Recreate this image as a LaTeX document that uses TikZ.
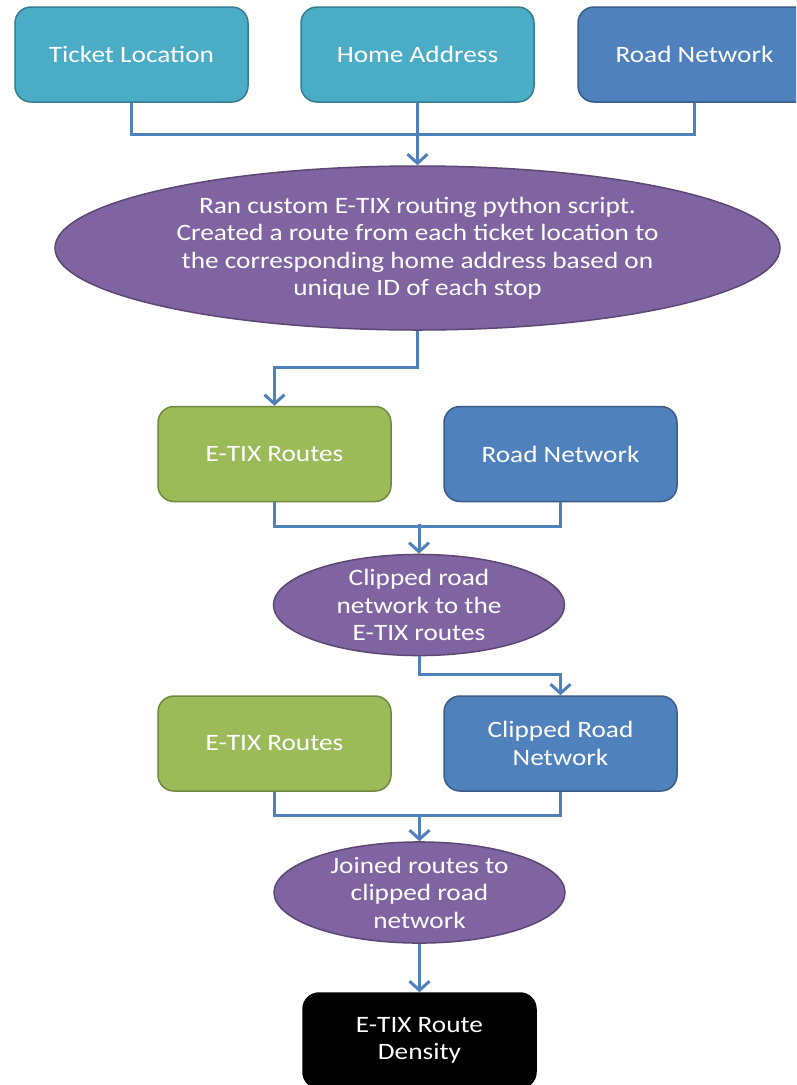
\documentclass[tikz,border=0pt]{standalone}
\usepackage{fontspec}
\setmainfont[FakeStretch=1.16]{Carlito}
\usetikzlibrary{arrows.meta,shapes.geometric,calc}
\definecolor{tealf}{HTML}{4BACC6}
\definecolor{teald}{HTML}{357D91}
\definecolor{bluef}{HTML}{4F81BD}
\definecolor{blued}{HTML}{385D8A}
\definecolor{greenf}{HTML}{9BBB59}
\definecolor{greend}{HTML}{71893F}
\definecolor{purpf}{HTML}{8064A2}
\definecolor{purpd}{HTML}{5C4776}
\definecolor{linec}{HTML}{4F81BD}
\tikzset{
  txt/.style={text=white, font=\fontsize{23.5}{27.5}\selectfont, align=center},
  box/.style={txt, rounded corners=16pt, minimum width=233pt, minimum height=95pt, inner sep=0pt, line width=1.5pt},
  tealbox/.style={box, fill=tealf, draw=teald},
  bluebox/.style={box, fill=bluef, draw=blued},
  greenbox/.style={box, fill=greenf, draw=greend},
  blackbox/.style={box, fill=black, draw=black},
  proc/.style={txt, ellipse, fill=purpf, draw=purpd, line width=1.5pt, inner sep=0pt},
  conn/.style={draw=linec, line width=3pt},
  arr/.style={conn, -{Straight Barb[length=9pt,width=20pt,line width=3pt]}}
}
\begin{document}
\begin{tikzpicture}[x=1pt,y=-1pt]
\clip (0,0) rectangle (796,1085);
\fill[white] (0,0) rectangle (796,1085);
% top row
\node[tealbox] (tl) at (131.5,54.5) {Ticket Location};
\node[tealbox] (ha) at (417.5,54.5) {Home Address};
\node[bluebox] (rn1) at (694.5,54.5) {Road Network};
% big process
\node[proc, minimum width=725pt, minimum height=164pt] (big) at (417.5,248) {Ran custom E-TIX routing python script.\\Created a route from each ticket location to\\the corresponding home address based on\\unique ID of each stop};
% second row
\node[greenbox] (er1) at (274.5,454) {E-TIX Routes};
\node[bluebox] (rn2) at (560.5,454) {Road Network};
\node[proc, minimum width=291pt, minimum height=100pt] (clip) at (419,605) {Clipped road\\network to the\\E-TIX routes};
% third row
\node[greenbox] (er2) at (274.5,743.5) {E-TIX Routes};
\node[bluebox] (crn) at (560.5,743.5) {Clipped Road\\Network};
\node[proc, minimum width=291pt, minimum height=101pt] (join) at (419.5,892.5) {Joined routes to\\clipped road\\network};
\node[blackbox] (dens) at (419.5,1040.5) {E-TIX Route\\Density};
% connectors
\draw[conn] (tl.south) -- ++(0,32) -| (rn1.south);
\draw[arr] (ha.south) -- (big.north);
\draw[arr] (big.south) -- ++(0,37) -| (er1.north);
\draw[conn] (er1.south) -- ++(0,24) -| (rn2.south);
\draw[arr] ([yshift=30pt]clip.north) -- (clip.north);
\draw[arr] (clip.south) -- ++(0,18) -| (crn.north);
\draw[conn] (er2.south) -- ++(0,24) -| (crn.south);
\draw[arr] ([yshift=27pt]join.north) -- (join.north);
\draw[arr] (join.south) -- (dens.north);
\end{tikzpicture}
\end{document}
